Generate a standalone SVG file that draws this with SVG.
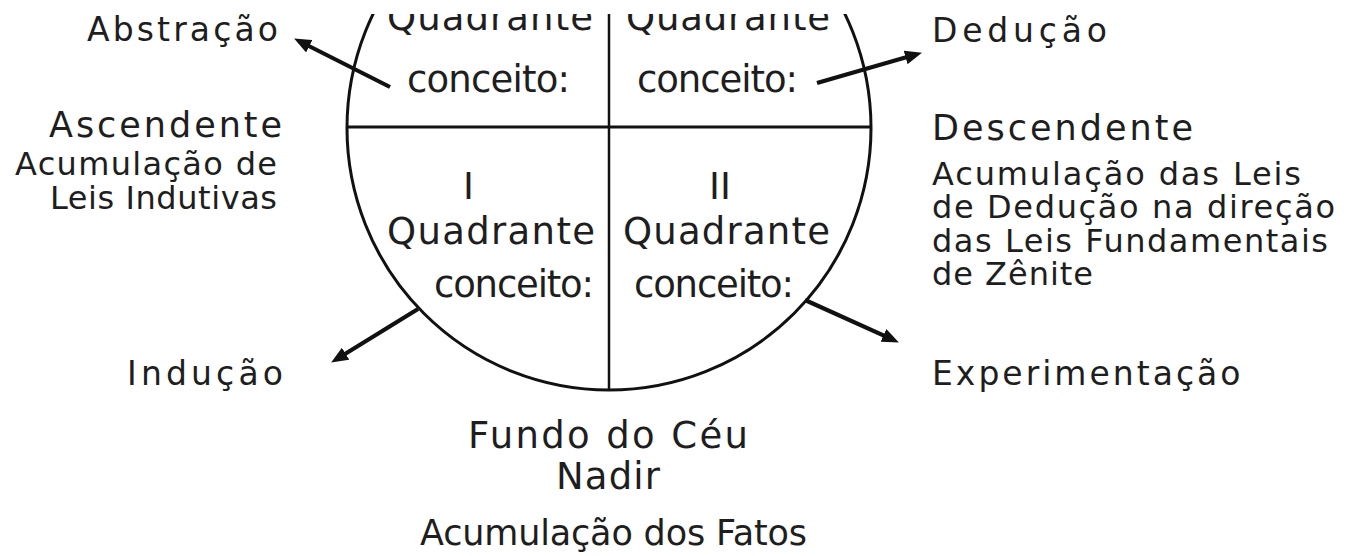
<svg xmlns="http://www.w3.org/2000/svg" width="1355" height="556" viewBox="0 0 1355 556">
<style>
text{font-family:"DejaVu Sans","Liberation Sans",sans-serif;fill:#1e1e1e}
.q{font-size:37px}
.s{font-size:33px}
.t{font-size:32px}
.m{font-size:35px}
.b{font-size:37px}
.line{stroke:#111;fill:none}
.arr{stroke:#111;stroke-width:4.2;fill:none;marker-end:url(#ah)}
</style>
<defs>
<clipPath id="top"><rect x="0" y="14" width="1355" height="542"/></clipPath>
<marker id="ah" viewBox="0 0 17 14" refX="6" refY="7" markerWidth="17" markerHeight="14" markerUnits="userSpaceOnUse" orient="auto">
<path d="M0,0 L17,7 L0,14 z" fill="#111"/>
</marker>
</defs>
<rect width="1355" height="556" fill="#fff"/>
<g id="circle" clip-path="url(#top)">
<circle class="line" cx="609" cy="128" r="262" stroke-width="3"/>
<line class="line" x1="347" y1="127" x2="871" y2="127" stroke-width="3"/>
<line class="line" x1="609" y1="0" x2="609" y2="390" stroke-width="2.5"/>
<g id="q4">
<text class="q" x="387" y="30" textLength="206" lengthAdjust="spacing">Quadrante</text>
<text class="q" x="407" y="92" textLength="163" lengthAdjust="spacing">conceito:</text>
</g>
<g id="q3">
<text class="q" x="626" y="30" textLength="204" lengthAdjust="spacing">Quadrante</text>
<text class="q" x="637" y="92" textLength="161" lengthAdjust="spacing">conceito:</text>
</g>
</g>
<g id="q1">
<text class="q" x="463" y="199">I</text>
<text class="q" x="387" y="244" textLength="208" lengthAdjust="spacing">Quadrante</text>
<text class="q" x="434" y="297" textLength="160" lengthAdjust="spacing">conceito:</text>
</g>
<g id="q2">
<text class="q" x="709" y="199">II</text>
<text class="q" x="623" y="244" textLength="207" lengthAdjust="spacing">Quadrante</text>
<text class="q" x="634" y="297" textLength="160" lengthAdjust="spacing">conceito:</text>
</g>
<g id="connectors">
<line class="arr" x1="390" y1="87" x2="303.9" y2="43.5"/>
<line class="arr" x1="817" y1="83" x2="911.4" y2="55.8"/>
<line class="arr" x1="418" y1="309" x2="340.5" y2="356.8"/>
<line class="arr" x1="805" y1="300" x2="888.9" y2="337.9"/>
</g>
<g id="left">
<text class="s" x="87" y="41" textLength="191" lengthAdjust="spacing">Abstração</text>
<text class="m" x="49" y="137" textLength="233" lengthAdjust="spacing">Ascendente</text>
<text class="t" x="15" y="175" textLength="262" lengthAdjust="spacing">Acumulação de</text>
<text class="t" x="50" y="209" textLength="227" lengthAdjust="spacing">Leis Indutivas</text>
<text class="s" x="127" y="385" textLength="156" lengthAdjust="spacing">Indução</text>
</g>
<g id="right">
<text class="s" x="932" y="42" textLength="175" lengthAdjust="spacing">Dedução</text>
<text class="m" x="932" y="140" textLength="261" lengthAdjust="spacing">Descendente</text>
<text class="t" x="932" y="185" textLength="369" lengthAdjust="spacing">Acumulação das Leis</text>
<text class="t" x="932" y="218" textLength="403" lengthAdjust="spacing">de Dedução na direção</text>
<text class="t" x="932" y="252" textLength="396" lengthAdjust="spacing">das Leis Fundamentais</text>
<text class="t" x="932" y="285" textLength="161" lengthAdjust="spacing">de Zênite</text>
<text class="s" x="932" y="385" letter-spacing="3">Experimentação</text>
</g>
<g id="bottom">
<text class="b" x="468" y="448" textLength="280" lengthAdjust="spacing">Fundo do Céu</text>
<text class="b" x="556" y="489" textLength="104" lengthAdjust="spacing">Nadir</text>
<text class="m" x="420" y="545" textLength="387" lengthAdjust="spacing">Acumulação dos Fatos</text>
</g>
</svg>
